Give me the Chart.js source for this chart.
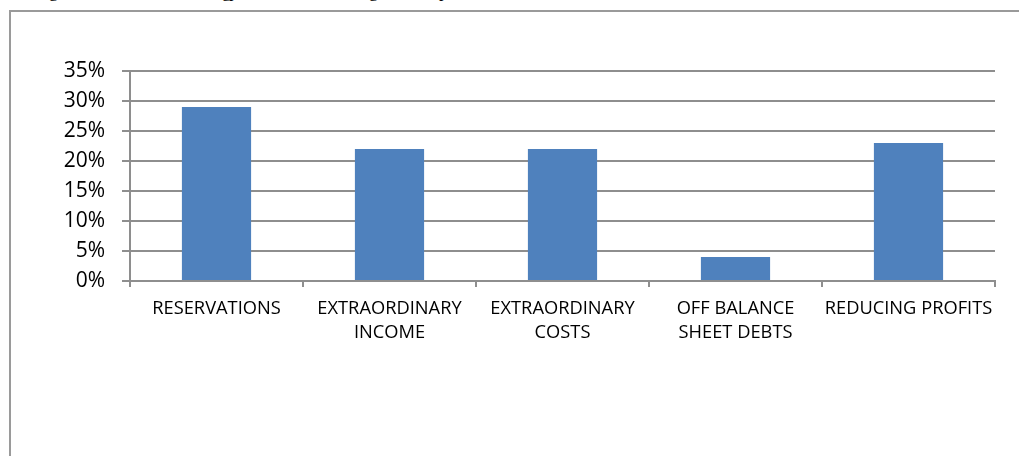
<!DOCTYPE html>
<html>
<head>
<meta charset="utf-8">
<script src="https://cdn.jsdelivr.net/npm/chart.js@4"></script>
<style>
  html, body { margin:0; padding:0; background:#fff; overflow:hidden; }
  #wrap { position:relative; width:1019px; height:456px; overflow:hidden; }
  #frame { position:absolute; left:9px; top:10px; width:1010px; height:446px; border-left:2px solid #9a9a9a; border-top:2px solid #9a9a9a; box-sizing:border-box; }
  #cut { position:absolute; top:-19px; left:0; font:18px "Liberation Serif", serif; line-height:20px; color:#000; }
  #cut span { position:absolute; }
  canvas { position:absolute; left:0; top:0; }
</style>
</head>
<body>
<div id="wrap">
  <div id="frame"></div>
  <div id="cut"><span style="left:49px">g</span><span style="left:222px">g</span><span style="left:229px">p</span><span style="left:369px">g</span><span style="left:439px">p</span></div>
  <canvas id="chart" width="1019" height="456"></canvas>
</div>
<script>
const categories = [
  ['RESERVATIONS'],
  ['EXTRAORDINARY', 'INCOME'],
  ['EXTRAORDINARY', 'COSTS'],
  ['OFF BALANCE', 'SHEET DEBTS'],
  ['REDUCING PROFITS']
];
const shares = [29, 22, 22, 4, 23];   // percent
const yTicks = [0, 5, 10, 15, 20, 25, 30, 35];

const gridColor = '#8e8e8e';

const ctx = document.getElementById('chart').getContext('2d');
new Chart(ctx, {
  type: 'bar',
  data: {
    labels: categories,
    datasets: [{ data: shares, backgroundColor: '#4F81BD', borderWidth: 0, barPercentage: 0.4, categoryPercentage: 1 }]
  },
  options: {
    responsive: false,
    animation: false,
    layout: { padding: { top: 71, right: 24, bottom: 0, left: 0 } },
    plugins: { legend: { display: false }, tooltip: { enabled: false } },
    scales: {
      y: {
        min: 0, max: 35,
        afterBuildTicks: s => { s.ticks = yTicks.map(v => ({ value: v })); },
        afterFit: s => { s.width = 130; },
        border: { color: gridColor, width: 2 },
        grid: { color: gridColor, lineWidth: 2, tickLength: 8 },
        ticks: { padding: 17, color: '#000', font: { family: 'Open Sans', size: 21 }, callback: v => v + '%' }
      },
      x: {
        afterFit: s => { s.height = 175; },
        border: { color: gridColor, width: 2 },
        grid: { drawOnChartArea: false, color: gridColor, lineWidth: 2, tickLength: 6 },
        ticks: { padding: 10, color: '#000', maxRotation: 0, autoSkip: false, font: { family: 'Open Sans', size: 18.3, lineHeight: 1.3 } }
      }
    }
  }
});
</script>
</body>
</html>
